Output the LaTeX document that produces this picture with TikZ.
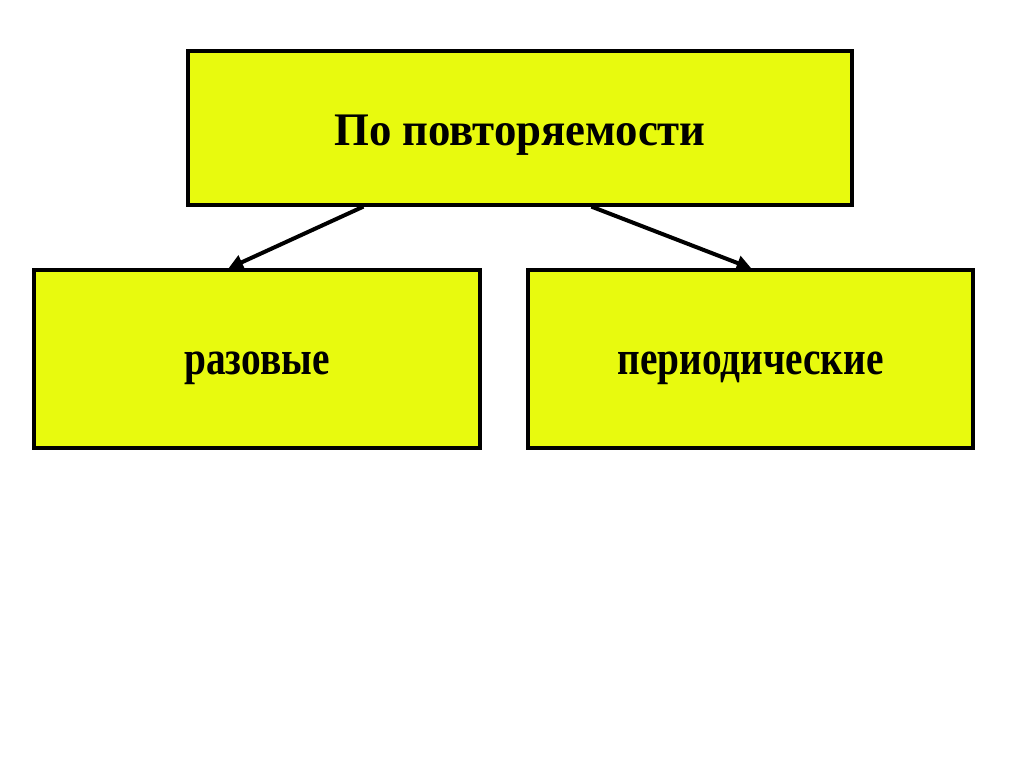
\documentclass[tikz,border=0pt]{standalone}
\usepackage{fontspec}
\setmainfont{Liberation Serif}
\usetikzlibrary{arrows.meta,calc}
\definecolor{boxyellow}{RGB}{232,250,14}
\begin{document}
\begin{tikzpicture}[x=0.75pt,y=-0.75pt,
  box/.style={draw=black,fill=boxyellow,line width=2.4pt,inner sep=0pt},
  toptext/.style={font=\fontsize{35}{40}\selectfont\bfseries,text height=30pt,text depth=4.5pt},
  subtext/.style={font=\fontsize{36}{40}\selectfont\bfseries,text height=25pt,text depth=2.5pt},
  conn/.style={draw=black,line width=3pt,-{Triangle[length=11pt,width=11pt]}}]
\useasboundingbox[fill=white] (0,0) rectangle (1024,767);
\node[box,toptext,minimum width=664*0.75pt,minimum height=154*0.75pt] (top) at (520,128) {\scalebox{0.96}[1]{По повторяемости}};
\node[box,subtext,minimum width=446*0.75pt,minimum height=178*0.75pt] (left) at (257,359) {\scalebox{0.82}[1]{разовые}};
\node[box,subtext,minimum width=445*0.75pt,minimum height=178*0.75pt] (right) at (750.5,359) {\scalebox{0.82}[1]{периодические}};
\draw[conn] ([xshift=177*0.75pt]top.south west) -- ([xshift=196*0.75pt]left.north west);
\draw[conn] ([xshift=405*0.75pt]top.south west) -- ([xshift=225*0.75pt]right.north west);
\end{tikzpicture}
\end{document}
